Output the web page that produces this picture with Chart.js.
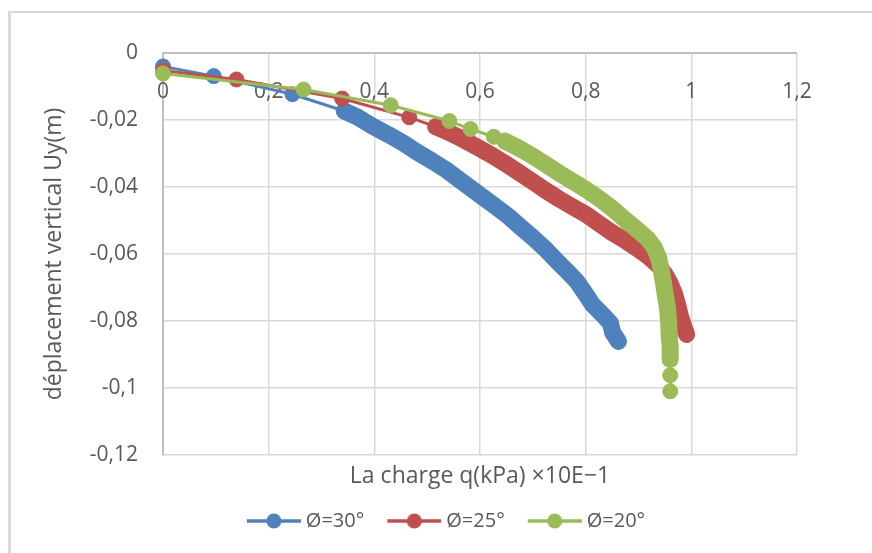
<!DOCTYPE html>
<html>
<head>
<meta charset="utf-8">
<script src="https://cdn.jsdelivr.net/npm/chart.js@4"></script>
<style>
  body { margin: 0; background: #fff; }
  #wrap { position: relative; width: 872px; height: 553px; overflow: hidden; }
  #frame { position: absolute; left: 8px; top: 11px; width: 900px; height: 600px;
           border-top: 2px solid #d9d9d9; border-left: 3px solid #d9d9d9; }
  canvas { position: absolute; left: 0; top: 0; }
</style>
</head>
<body>
<div id="wrap">
  <div id="frame"></div>
  <canvas id="myChart" width="872" height="553"></canvas>
</div>
<script>
// load q (kPa x10E-1) and vertical displacement Uy (m), one pair of arrays per friction angle
const q30 = [0, 0.096, 0.245, 0.343, 0.368, 0.396, 0.426, 0.455, 0.481, 0.509, 0.536, 0.560, 0.583, 0.606,
    0.630, 0.655, 0.677, 0.700, 0.723, 0.743, 0.764, 0.783, 0.798, 0.813, 0.832, 0.847, 0.851, 0.862];
const uy30 = [-0.0040, -0.0069, -0.0123, -0.0173, -0.0191, -0.0218, -0.0243, -0.0269, -0.0296, -0.0322, -0.0349,
    -0.0377, -0.0404, -0.0431, -0.0459, -0.0489, -0.0520, -0.0551, -0.0584, -0.0617, -0.0650, -0.0681, -0.0715,
    -0.0751, -0.0781, -0.0807, -0.0834, -0.0861];

const q25 = [0, 0.139, 0.339, 0.466, 0.516, 0.540, 0.568, 0.596, 0.623, 0.649, 0.674, 0.698, 0.723, 0.749,
    0.775, 0.802, 0.826, 0.851, 0.875, 0.898, 0.919, 0.938, 0.951, 0.960, 0.968, 0.974, 0.979, 0.985, 0.991];
const uy25 = [-0.0052, -0.0079, -0.0136, -0.0192, -0.0220, -0.0236, -0.0258, -0.0282, -0.0306, -0.0331, -0.0357,
    -0.0382, -0.0409, -0.0435, -0.0459, -0.0483, -0.0510, -0.0537, -0.0560, -0.0584, -0.0608, -0.0635, -0.0662,
    -0.0688, -0.0718, -0.0751, -0.0784, -0.0813, -0.0840];

const q20 = [0, 0.266, 0.431, 0.542, 0.582, 0.626, 0.647, 0.670, 0.696, 0.723, 0.749, 0.775, 0.802, 0.826,
    0.851, 0.875, 0.898, 0.917, 0.930, 0.938, 0.943, 0.947, 0.951, 0.955, 0.957, 0.958, 0.960, 0.960, 0.960, 0.960];
const uy20 = [-0.0061, -0.0109, -0.0156, -0.0203, -0.0227, -0.0250, -0.0263, -0.0281, -0.0304, -0.0331, -0.0358,
    -0.0383, -0.0409, -0.0435, -0.0465, -0.0498, -0.0528, -0.0554, -0.0581, -0.0611, -0.0647, -0.0685, -0.0724,
    -0.0763, -0.0802, -0.0840, -0.0876, -0.0915, -0.0962, -0.1010];

const seriesLabels = ['Ø=30°', 'Ø=25°', 'Ø=20°'];
const xTicks = {min: 0, max: 1.2, step: 0.2};
const yTicks = {min: -0.12, max: 0, step: 0.02};

const colors = ['#4f81bd', '#c0504d', '#9bbb59'];
// where the markers of a series pack into a solid band (segment index range)
const denseFrom = [3, 4, 6];
const denseTo = [Infinity, Infinity, 27];

const txt = '#595959';
Chart.defaults.font.family = "'Open Sans', sans-serif";

function fmt(v, d) {
    const r = Math.round(v * d) / d;
    return String(r).replace('.', ',');
}

function toPoints(xs, ys) {
    return xs.map((x, i) => ({x: x, y: ys[i]}));
}

// legend icon: short line with a dot in the middle
function makeIcon(color) {
    const c = document.createElement('canvas');
    c.width = 72;
    c.height = 20;
    const g = c.getContext('2d');
    g.strokeStyle = color;
    g.lineWidth = 3.5;
    g.beginPath();
    g.moveTo(18, 10);
    g.lineTo(72, 10);
    g.stroke();
    g.fillStyle = color;
    g.beginPath();
    g.arc(45, 10, 7.5, 0, Math.PI * 2);
    g.fill();
    return c;
}
const icons = colors.map(makeIcon);

function makeDataset(i, xs, ys) {
    return {
        label: seriesLabels[i],
        data: toPoints(xs, ys),
        showLine: true,
        borderColor: colors[i],
        backgroundColor: colors[i],
        pointBackgroundColor: colors[i],
        pointBorderColor: colors[i],
        pointRadius: 7.5,
        pointBorderWidth: 1,
        borderWidth: 3,
        borderCapStyle: 'round',
        borderJoinStyle: 'round',
        tension: 0,
        clip: false,
        order: 3 - i,
        segment: {
            borderWidth: ctx => (ctx.p0DataIndex >= denseFrom[i] && ctx.p1DataIndex <= denseTo[i]) ? 17 : 3
        }
    };
}

// x tick labels sit just under the zero line, like the Excel original
const xLabelPlugin = {
    id: 'xLabelPlugin',
    afterLayout(chart) {
        chart.legend.left += 41;
        chart.legend.right += 41;
    },
    beforeDatasetsDraw(chart) {
        const ctx = chart.ctx;
        const xs = chart.scales.x;
        ctx.save();
        ctx.font = "21px 'Open Sans', sans-serif";
        ctx.fillStyle = txt;
        ctx.textAlign = 'center';
        ctx.textBaseline = 'middle';
        xs.ticks.forEach(t => {
            ctx.fillText(fmt(t.value, 10), xs.getPixelForValue(t.value), chart.chartArea.top + 39);
        });
        ctx.restore();
    }
};

const myChart = new Chart(document.getElementById('myChart'), {
    type: 'scatter',
    data: {
        datasets: [
            makeDataset(0, q30, uy30),
            makeDataset(1, q25, uy25),
            makeDataset(2, q20, uy20)
        ]
    },
    options: {
        responsive: false,
        animation: false,
        layout: {padding: {top: 53, right: 75, bottom: 12, left: 0}},
        plugins: {
            tooltip: {enabled: false},
            legend: {
                position: 'bottom',
                labels: {
                    color: txt,
                    font: {size: 20},
                    usePointStyle: true,
                    pointStyleWidth: 62,
                    padding: 10,
                    sort: (a, b) => a.datasetIndex - b.datasetIndex,
                    generateLabels: chart => Chart.defaults.plugins.legend.labels.generateLabels(chart)
                        .map(l => Object.assign(l, {pointStyle: icons[l.datasetIndex]}))
                }
            }
        },
        scales: {
            x: {
                type: 'linear',
                min: xTicks.min,
                max: xTicks.max,
                ticks: {stepSize: xTicks.step, display: false},
                grid: {color: '#d9d9d9', lineWidth: 1.5, drawTicks: false},
                border: {display: false},
                title: {
                    display: true,
                    text: 'La charge q(kPa) ×10E−1',
                    color: txt,
                    font: {size: 23},
                    padding: {top: 0, bottom: 11}
                },
                afterFit: scale => { scale.height = 46; }
            },
            y: {
                min: yTicks.min,
                max: yTicks.max,
                ticks: {
                    stepSize: yTicks.step,
                    color: txt,
                    font: {size: 21},
                    padding: 25,
                    callback: v => fmt(v, 100)
                },
                grid: {
                    color: c => Math.abs(c.tick.value) < 1e-9 ? '#bfbfbf' : '#d9d9d9',
                    lineWidth: c => Math.abs(c.tick.value) < 1e-9 ? 2 : 1.5,
                    drawTicks: false
                },
                border: {display: true, color: '#bfbfbf', width: 2},
                title: {
                    display: true,
                    text: 'déplacement vertical Uy(m)',
                    color: txt,
                    font: {size: 23},
                    padding: {top: 41, bottom: 0}
                },
                afterFit: scale => { scale.width = 163; }
            }
        }
    },
    plugins: [xLabelPlugin]
});
</script>
</body>
</html>
